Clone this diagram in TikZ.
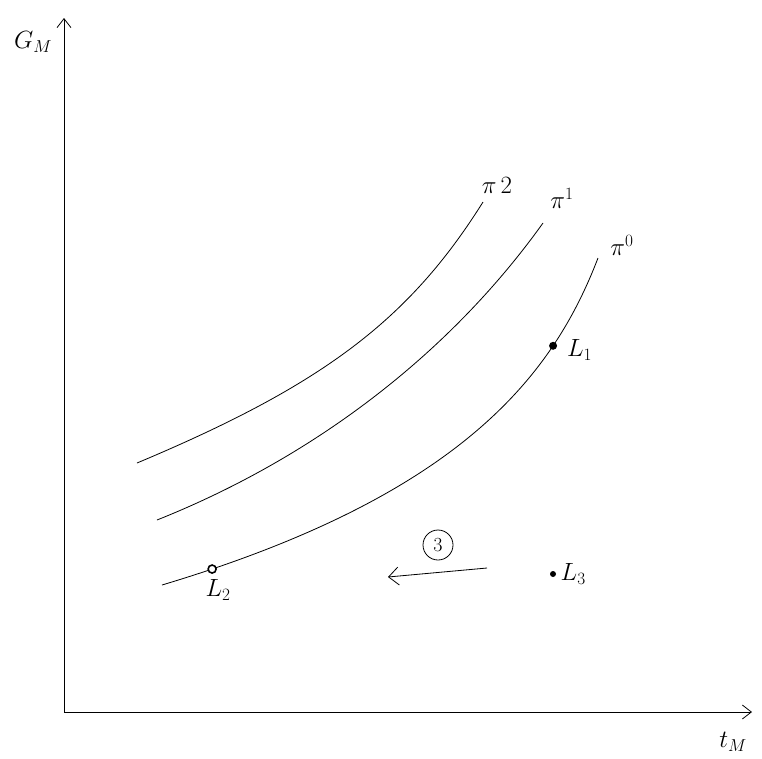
\documentclass[tikz,border=0pt]{standalone}
\usepackage{amsmath}
\usepackage{tikz}
\usetikzlibrary{arrows.meta, positioning}
\tikzset{
  axis/.style={-{Straight Barb[length=9pt, width=14pt]}, thick},
  curve/.style={thick},
  dot/.style={circle, fill=black, inner sep=0pt, minimum size=8pt},
  ringdot/.style={circle, draw=black, line width=1.6pt, fill=white, inner sep=0pt, minimum size=8pt},
  smalldot/.style={circle, fill=black, inner sep=0pt, minimum size=6pt},
  lbl/.style={font=\fontsize{24}{26}\selectfont},
  move/.style={-{Straight Barb[length=10pt, width=18pt]}, thick},
}
\begin{document}
\begin{tikzpicture}[x=1pt, y=-1pt]
  \useasboundingbox (0,0) rectangle (762,758);

  % axes
  \coordinate (O) at (64,712);
  \coordinate (ytop) at (64,18);
  \coordinate (xend) at (752,712);
  \draw[axis] (O) -- (ytop);
  \draw[axis] (O) -- (xend);
  \node[lbl] (GM) at (33,42) {$G_M$};
  \node[lbl] (tM) at (733,742) {$t_M$};

  % indifference curves
  \draw[curve] (137,463) .. controls (323,385) and (409,320) .. (483,202);
  \draw[curve] (157,520) .. controls (315,457) and (450,353) .. (543,223);
  \draw[curve] (162,585) .. controls (462,495) and (553,375) .. (598,258)
    node[dot, pos=0.75] (L1) {}
    node[ringdot, pos=0.058] (L2) {};
  \node[lbl] (pi2) at (497,185) {$\pi\,2$};
  \node[lbl] (pi1) at (562,198) {$\pi^1$};
  \node[lbl] (pi0) at (622,245) {$\pi^0$};

  % points
  \node[smalldot] (L3) at (553,574) {};
  \node[lbl, right=6pt of L1, yshift=-4pt] (L1lbl) {$L_1$};
  \node[lbl, below=2pt of L2, xshift=6pt] (L2lbl) {$L_2$};
  \node[lbl, right=1pt of L3] (L3lbl) {$L_3$};

  % movement
  \coordinate (mstart) at (487,568);
  \coordinate (mend) at (388,577);
  \draw[move] (mstart) -- (mend);
  \node[circle, draw, thick, inner sep=1pt, minimum size=30pt, font=\fontsize{20}{22}\selectfont] (three) at (438,545) {3};

\end{tikzpicture}
\end{document}
